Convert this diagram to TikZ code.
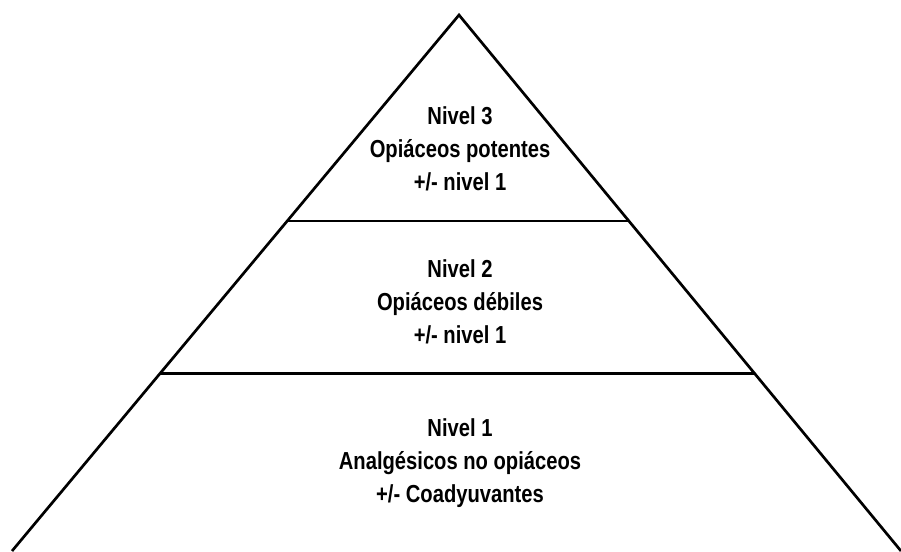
\documentclass[tikz,border=0pt]{standalone}
\usepackage{fontspec}
\setmainfont{Liberation Sans}[FakeStretch=0.82]
\usetikzlibrary{calc}

\tikzset{
    level/.style={align=center, inner sep=0pt, font=\fontsize{21}{28}\selectfont\bfseries},
    edge/.style={line width=2.3pt, line join=miter},
}

\begin{document}
\begin{tikzpicture}[x=0.03cm, y=-0.03cm]
        \useasboundingbox (0, 0) rectangle (901, 551);

        %pyramid corners
        \coordinate (top) at (459, 15);
        \coordinate (bl) at (12, 551);
        \coordinate (br) at (901, 551);

        %points on the sides
        \coordinate (l1) at ($(top)!0.385!(bl)$);
        \coordinate (r1) at ($(top)!0.385!(br)$);
        \coordinate (l2) at ($(top)!0.669!(bl)$);
        \coordinate (r2) at ($(top)!0.669!(br)$);

        % Draw the sides
        \draw[edge] (bl) -- (top) -- (br);

        % Draw the dividers
        \draw[line width=1.8pt] (l1) -- (r1);
        \draw[line width=2.4pt] (l2) -- (r2);

        % Add the level texts
        \node[level] (n3) at (460, 149) {Nivel 3\\Opiáceos potentes\\+/- nivel 1};
        \node[level] (n2) at (460, 302) {Nivel 2\\Opiáceos débiles\\+/- nivel 1};
        \node[level] (n1) at (460, 463) {Nivel 1\\Analgésicos no opiáceos\\+/- Coadyuvantes};

\end{tikzpicture}
\end{document}
